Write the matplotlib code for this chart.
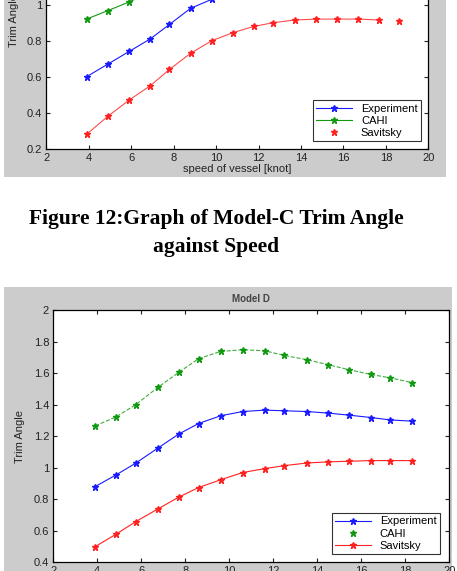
import matplotlib.pyplot as plt
from matplotlib.patches import Rectangle

plt.rcParams['font.family'] = ['Liberation Sans', 'DejaVu Sans']

# Model C (upper chart, top part cut off in the scan)
c_speed = [3.9, 4.9, 5.9, 6.9, 7.8, 8.8, 9.8, 10.8, 11.8, 12.7, 13.7, 14.7, 15.7, 16.7, 17.7, 18.6]
c_exp_speed = [3.9, 4.9, 5.9, 6.9, 7.8, 8.8, 9.8, 10.8]
c_exp = [0.60, 0.67, 0.74, 0.81, 0.89, 0.98, 1.03, 1.08]
c_cahi_speed = [3.9, 4.9, 5.9, 6.9]
c_cahi = [0.92, 0.967, 1.015, 1.07]
c_sav = [0.28, 0.38, 0.47, 0.55, 0.64, 0.73, 0.80, 0.845, 0.88, 0.90,
         0.915, 0.92, 0.92, 0.92, 0.915, 0.908]

# Model D (lower chart)
d_speed = [3.9, 4.85, 5.75, 6.75, 7.7, 8.6, 9.6, 10.6, 11.6, 12.5, 13.55, 14.5,
           15.45, 16.45, 17.3, 18.3]
d_exp = [0.88, 0.954, 1.029, 1.124, 1.213, 1.28, 1.329, 1.356, 1.365, 1.361,
         1.356, 1.346, 1.333, 1.318, 1.303, 1.295]
d_cahi = [1.265, 1.322, 1.40, 1.509, 1.604, 1.691, 1.737, 1.748, 1.742, 1.712,
          1.684, 1.653, 1.621, 1.591, 1.570, 1.540]
d_sav = [0.499, 0.578, 0.658, 0.738, 0.813, 0.874, 0.923, 0.969, 0.994, 1.013,
         1.030, 1.037, 1.041, 1.045, 1.045, 1.045]

x_ticks = list(range(2, 21, 2))
c_yticks = [0.2, 0.4, 0.6, 0.8, 1, 1.2]
d_yticks = [0.4, 0.6, 0.8, 1, 1.2, 1.4, 1.6, 1.8, 2]

W, H = 457, 571
fig = plt.figure(figsize=(W / 100, H / 100), dpi=100)


def box(l, t, r, b):
    return [l / W, 1 - b / H, (r - l) / W, (b - t) / H]


# grey matlab figure backgrounds
fig.add_artist(Rectangle((4 / W, 1 - 177 / H), 442 / W, 177 / H, transform=fig.transFigure,
                         facecolor='#cccccc', edgecolor='none', zorder=0))
fig.add_artist(Rectangle((4 / W, 0), 448 / W, (H - 287) / H, transform=fig.transFigure,
                         facecolor='#cccccc', edgecolor='none', zorder=0))

BLUE, GREEN, RED = '#1a1aff', '#119911', '#ff2020'
FS = 8


def style(ax, ylim, yticks):
    ax.set_xlim(2, 20)
    ax.set_ylim(*ylim)
    ax.set_xticks(x_ticks)
    ax.set_yticks(yticks)
    ax.set_yticklabels([f'{v:g}' for v in yticks])
    ax.tick_params(direction='in', top=True, right=True, length=3, width=0.8,
                   labelsize=FS, pad=3, colors='#222222')
    for s in ax.spines.values():
        s.set_linewidth(0.9)
    ax.set_facecolor('white')


def legend(ax, anchor):
    leg = ax.legend(loc='lower right', fontsize=FS, frameon=True, fancybox=False,
                    edgecolor='black', borderpad=0.3, labelspacing=0.2,
                    handlelength=3.2, bbox_to_anchor=anchor)
    leg.get_frame().set_linewidth(0.8)


# ---- upper chart (Model C) ----
ax1 = fig.add_axes(box(46.3, 148.7 - 180, 428.3, 148.7))
style(ax1, (0.2, 1.2), c_yticks)
ax1.plot(c_exp_speed, c_exp, '-*', color=BLUE, lw=0.8, ms=5, label='Experiment')
ax1.plot(c_cahi_speed, c_cahi, '-*', color=GREEN, lw=0.8, ms=5, label='CAHI')
ax1.plot(c_speed[:-1], c_sav[:-1], '-', color=RED, lw=0.8, alpha=0.8)
ax1.plot(c_speed, c_sav, '*', color=RED, ms=5, label='Savitsky')
ax1.set_xlabel('speed of vessel [knot]', fontsize=FS, labelpad=1, color='#222222')
ax1.set_ylabel('Trim Angle', fontsize=FS, color='#222222')
ax1.yaxis.set_label_coords(-0.072, 0.71)
legend(ax1, (0.995, 0.01))

# caption
fig.text(216 / W, 1 - 219 / H, 'Figure 12:Graph of Model-C Trim Angle', ha='center',
         va='center', fontsize=15.5, fontweight='bold', family='Liberation Serif')
fig.text(216 / W, 1 - 247 / H, 'against Speed', ha='center', va='center',
         fontsize=15.5, fontweight='bold', family='Liberation Serif')

# ---- lower chart (Model D) ----
ax2 = fig.add_axes(box(53.3, 310, 449.3, 562.3))
style(ax2, (0.4, 2), d_yticks)
ax2.plot(d_speed, d_exp, '-*', color=BLUE, lw=0.8, ms=5, label='Experiment')
ax2.plot(d_speed, d_cahi, '--', color=GREEN, lw=0.8, alpha=0.8)
ax2.plot(d_speed, d_cahi, '*', color=GREEN, ms=5, label='CAHI')
ax2.plot(d_speed, d_sav, '-*', color=RED, lw=0.8, ms=5, label='Savitsky')
ax2.set_title('Model D', fontsize=7, fontweight='bold', color='#444444', pad=6)
ax2.set_ylabel('Trim Angle', fontsize=FS, color='#222222', labelpad=6)
legend(ax2, (0.99, 0.01))

fig.savefig('out.png', dpi=100, facecolor='white')
